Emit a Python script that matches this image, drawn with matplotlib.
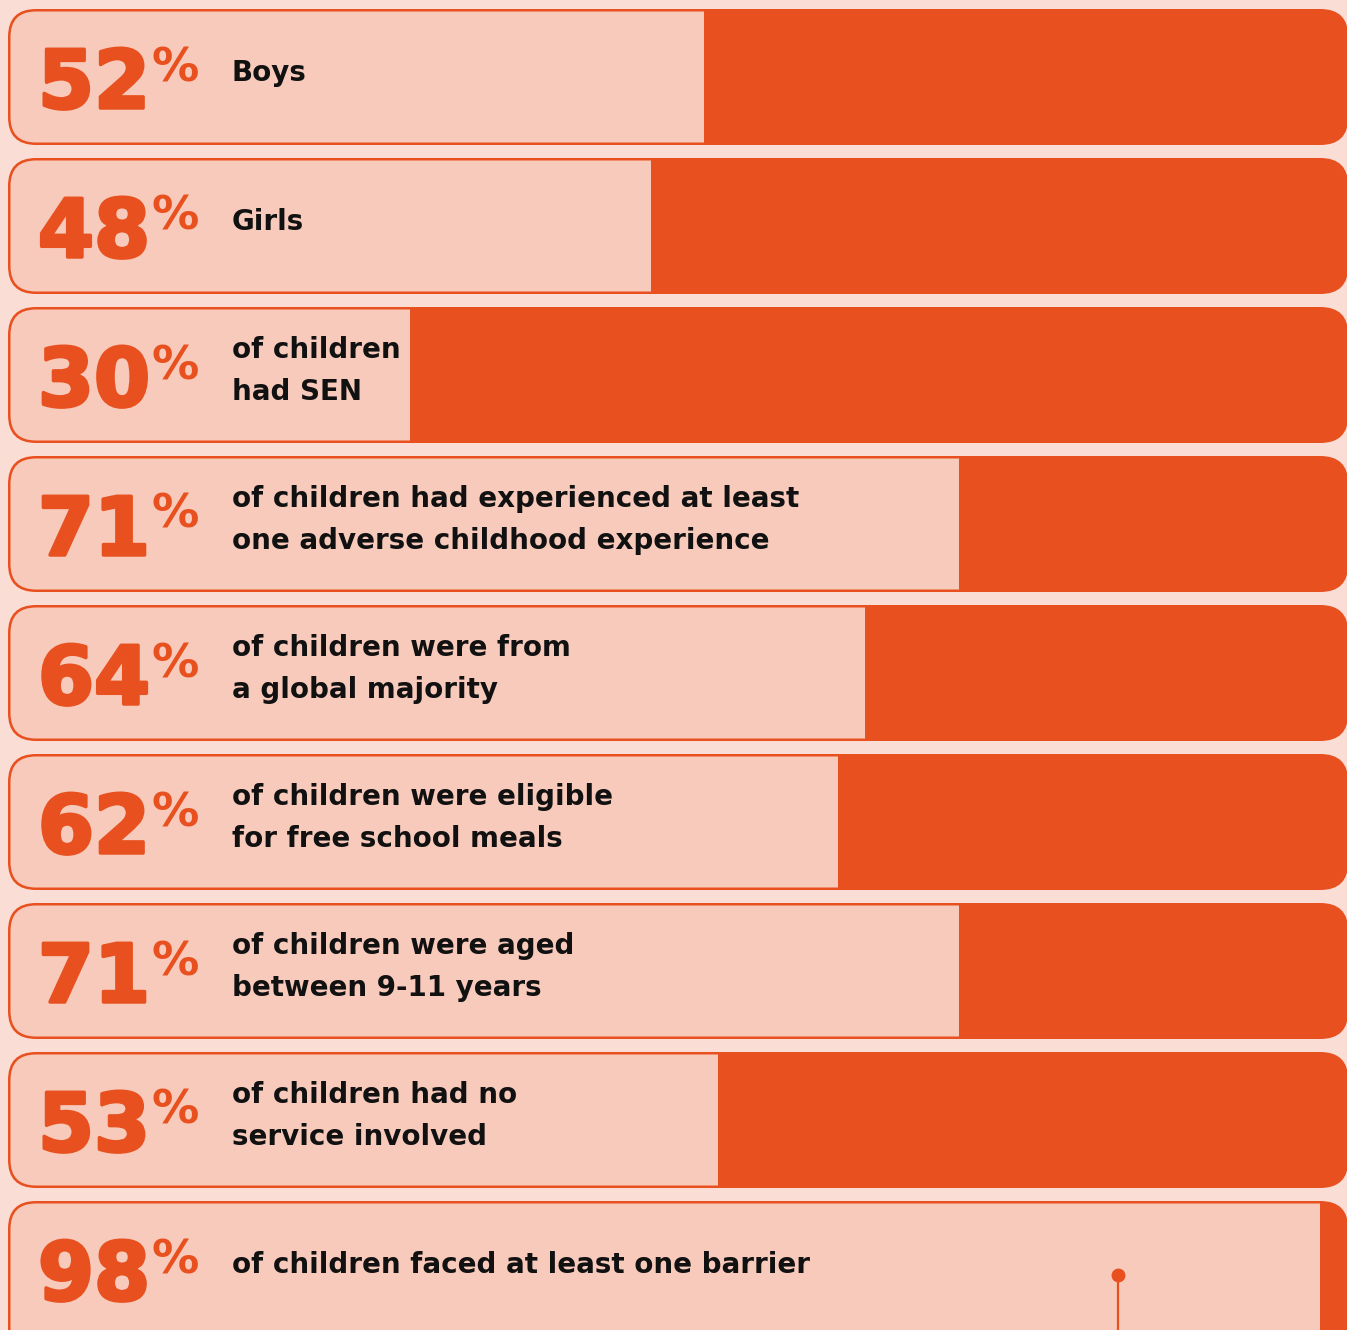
import matplotlib
matplotlib.use("Agg")
import matplotlib.pyplot as plt
import matplotlib.patheffects as pe
from matplotlib.patches import FancyBboxPatch

# data
values = [52, 48, 30, 71, 64, 62, 71, 53, 98]
labels = [
    "Boys",
    "Girls",
    "of children\nhad SEN",
    "of children had experienced at least\none adverse childhood experience",
    "of children were from\na global majority",
    "of children were eligible\nfor free school meals",
    "of children were aged\nbetween 9-11 years",
    "of children had no\nservice involved",
    "of children faced at least one barrier",
]

ORANGE = "#E8511F"
LIGHT = "#F7CABB"
BG = "#FADDD4"
FONT = "DejaVu Sans"

W, H = 1347, 1330
fig = plt.figure(figsize=(W / 100, H / 100), dpi=100, facecolor=BG)
ax = fig.add_axes([0, 0, 1, 1])
ax.set_facecolor(BG)
ax.axis("off")

# pixel geometry of the layout
px_x = 13.39   # pixels per percent
px_y = 149.0   # pixels per row
ax.set_xlim(-8 / px_x, (W - 8) / px_x)
ax.set_ylim((H - 77) / px_y, -77 / px_y)

box_h = 136 / px_y
box_w = 100.1
rad = 28 / px_x
aspect = px_x / px_y
bw = 2.5  # border width, px

for i, (v, lab) in enumerate(zip(values, labels)):
    y0 = i - box_h / 2
    h = box_h if i < len(values) - 1 else box_h + 0.4  # last box runs off the page
    # outer box = border + orange remainder
    box = FancyBboxPatch((0, y0), box_w, h,
                         boxstyle=f"round,pad=0,rounding_size={rad}",
                         mutation_aspect=aspect,
                         facecolor=ORANGE, edgecolor="none", zorder=1)
    ax.add_patch(box)
    inner = FancyBboxPatch((bw / px_x, y0 + bw / px_y),
                           box_w - 2 * bw / px_x, h - 2 * bw / px_y,
                           boxstyle=f"round,pad=0,rounding_size={rad - bw / px_x}",
                           mutation_aspect=aspect, transform=ax.transData)
    bars = ax.barh(i, v, height=h, align="edge", left=0, color=LIGHT, zorder=2)
    for b in bars:
        b.set_y(y0)
        b.set_clip_path(inner)

    num = ax.text(30 / px_x, i + 31 / px_y, str(v), color=ORANGE,
                  fontsize=58, fontweight="bold", family=FONT,
                  va="baseline", ha="left", zorder=4,
                  path_effects=[pe.withStroke(linewidth=2.5, foreground=ORANGE)])
    ax.annotate("%", xy=(1, i + 4 / px_y), xycoords=(num, "data"),
                xytext=(1, 0), textcoords="offset points",
                color=ORANGE, fontsize=34, fontweight="bold", family=FONT,
                va="baseline", ha="left", zorder=4)
    ax.text(224 / px_x, i - 4 / px_y, lab, color="#111111",
            fontsize=20, fontweight="bold", family=FONT,
            va="center", ha="left", linespacing=1.62, zorder=4)

# pin in the last row
pin_x = (1118 - 8) / px_x
last = len(values) - 1
ax.plot([pin_x, pin_x], [last + 6 / px_y, last + 2], color=ORANGE, lw=1.6,
        zorder=5, solid_capstyle="butt")
ax.plot(pin_x, last + 6 / px_y, "o", color=ORANGE, ms=9, zorder=6)

fig.savefig("out.png", dpi=100, facecolor=BG)
